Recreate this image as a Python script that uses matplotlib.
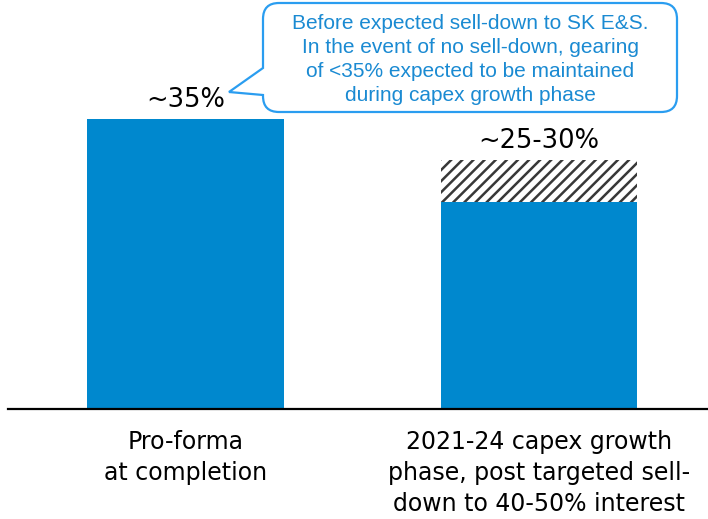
import matplotlib.pyplot as plt
from matplotlib.path import Path
from matplotlib.patches import PathPatch

# gearing bars (%)
categories = ["Pro-forma\nat completion",
              "2021-24 capex growth\nphase, post targeted sell-\ndown to 40-50% interest"]
solid_values = [35, 25]
range_top = [None, 30]
value_labels = ["~35%", "~25-30%"]
callout_text = ("Before expected sell-down to SK E&S.\n"
                "In the event of no sell-down, gearing\n"
                "of <35% expected to be maintained\n"
                "during capex growth phase")

BLUE = "#0088CE"
LABEL_FONT = "DejaVu Sans"

W, H = 708, 519
fig = plt.figure(figsize=(W / 100, H / 100), dpi=100)

# chart area: baseline at y=409 px
ax = fig.add_axes([8 / W, (H - 409) / H, 700 / W, 409 / H])
ax.set_xlim(-0.502, 1.478)
ax.set_ylim(0, 49.3)

x = list(range(len(categories)))
ax.bar(x, solid_values, width=0.557, color=BLUE, zorder=2)

plt.rcParams["hatch.linewidth"] = 1.8
plt.rcParams["hatch.color"] = "#383838"
for i, top in enumerate(range_top):
    if top is None:
        continue
    ax.bar(i, top - solid_values[i], bottom=solid_values[i], width=0.557,
           color="white", edgecolor="#383838", hatch="///", linewidth=0, zorder=2)

for i, lab in enumerate(value_labels):
    top = range_top[i] if range_top[i] is not None else solid_values[i]
    ax.annotate(lab, (i, top), xytext=(0, 8.5), textcoords="offset points",
                ha="center", va="baseline", fontsize=18.5, family=LABEL_FONT)

ax.set_xticks(x)
ax.set_xticklabels(categories, fontsize=17, family=LABEL_FONT, linespacing=1.38)
ax.tick_params(axis="x", length=0, pad=15)
ax.set_yticks([])
for side in ["top", "right", "left"]:
    ax.spines[side].set_visible(False)
ax.spines["bottom"].set_linewidth(1.6)
ax.spines["bottom"].set_color("black")

# callout bubble drawn in pixel space
ov = fig.add_axes([0, 0, 1, 1])
ov.set_xlim(0, W)
ov.set_ylim(H, 0)
ov.axis("off")

L, R, T, B, r = 263, 677, 3, 112, 16
tail_up, tail_tip, tail_low = (L, 68), (229, 92), (L, 95)
verts = [(L + r, T), (R - r, T), (R, T), (R, T + r), (R, B - r), (R, B), (R - r, B),
         (L + r, B), (L, B), (L, B - r), tail_low, tail_tip, tail_up, (L, T + r),
         (L, T), (L + r, T), (L + r, T)]
codes = [Path.MOVETO, Path.LINETO, Path.CURVE3, Path.CURVE3, Path.LINETO,
         Path.CURVE3, Path.CURVE3, Path.LINETO, Path.CURVE3, Path.CURVE3,
         Path.LINETO, Path.LINETO, Path.LINETO, Path.LINETO,
         Path.CURVE3, Path.CURVE3, Path.CLOSEPOLY]
ov.add_patch(PathPatch(Path(verts, codes), facecolor="white",
                       edgecolor="#2A9DF0", linewidth=1.6))
ov.text((L + R) / 2, (T + B) / 2 + 2, callout_text, ha="center", va="center",
        fontsize=15, color="#1A8AD2", family="Liberation Sans",
        linespacing=1.33)

fig.savefig("out.png", dpi=100)
